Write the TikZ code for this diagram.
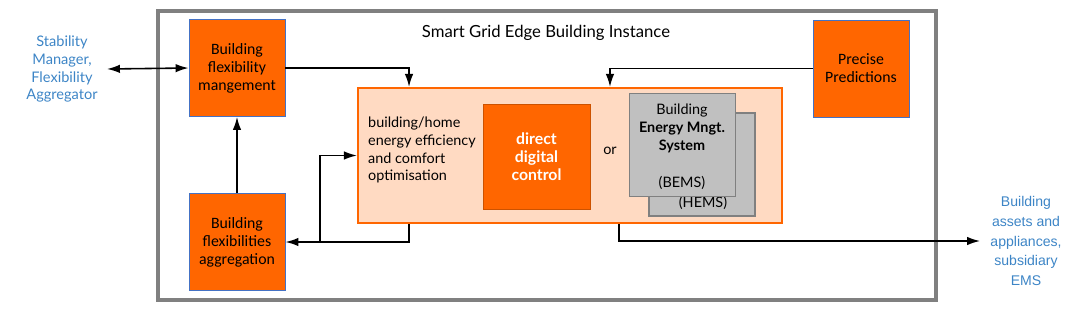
\documentclass[tikz,border=0pt]{standalone}
\usepackage{fontspec}
\setmainfont{Carlito}
\newfontfamily\latofont{Lato}
\newfontfamily\arialfont{Liberation Sans}
\usetikzlibrary{arrows.meta}
\definecolor{sgorange}{HTML}{FF6600}
\definecolor{sgpeach}{HTML}{FFDAC2}
\definecolor{sgborder}{HTML}{4472C4}
\definecolor{sggrey}{HTML}{C0C0C0}
\definecolor{sgframe}{HTML}{808080}
\definecolor{sgblue}{HTML}{3D85C6}
\tikzset{
  obox/.style={draw=sgborder,line width=0.5pt,fill=sgorange,minimum width=1.92cm,
    minimum height=1.94cm,align=center,font=\fontsize{9}{10.2}\selectfont},
  optbox/.style={draw=sgorange,line width=1.2pt,fill=sgpeach,minimum width=8.48cm,minimum height=2.7cm},
  ddcbox/.style={draw=sgorange!80!black,line width=0.5pt,fill=sgorange,minimum width=2.14cm,
    minimum height=2.1cm,align=center,text=white,font=\latofont\bfseries\fontsize{9}{10.2}\selectfont},
  gbox/.style={draw=sgframe,line width=0.6pt,fill=sggrey,minimum width=2.12cm,minimum height=2.06cm},
  smalltext/.style={font=\latofont\fontsize{8.2}{10.2}\selectfont},
  bluetext/.style={text=sgblue,align=center},
  tip/.tip={Latex[length=0.26cm,width=0.17cm]},
  arr/.style={-tip,line width=0.9pt}
}
\begin{document}
\begin{tikzpicture}[x=0.02cm,y=-0.02cm]
\useasboundingbox (0,0) rectangle (1080,312);
\draw[sgframe,line width=2pt] (158,11) rectangle (936,300);
\node[font=\latofont\fontsize{9.5}{12}\selectfont] (title) at (546,33) {Smart Grid Edge Building Instance};

\node[obox] (mgmt) at (237,68) {Building\\flexibility\\mangement};
\node[obox] (aggr) at (237,242) {Building\\flexibilities\\aggregation};
\node[obox] (pred) at (861,68.5) {Precise\\Predictions};

\node[optbox] (opt) at (570,155.5) {};
\node[smalltext,align=left,anchor=west] (goal) at (362,150)
  {building/home\\energy efficiency\\and comfort\\optimisation};
\node[ddcbox] (ddc) at (536.5,156.5) {direct\\digital\\control};
\node[smalltext] (or) at (610,151) {or};
\node[gbox] (hems) at (702,164.5) {};
\node[smalltext] (hemslbl) at (703,203) {(HEMS)};
\node[gbox] (bems) at (682.5,145) {};
\node[smalltext,align=center] (bemslbl) at (682,128)
  {Building\\\textbf{Energy Mngt.}\\\textbf{System}};
\node[smalltext] (bemsabbr) at (682,183) {(BEMS)};

\node[bluetext,inner sep=0.18cm,font=\latofont\fontsize{8.3}{10.2}\selectfont] (stab) at (62,69)
  {Stability\\Manager,\\Flexibility\\Aggregator};
\node[bluetext,inner sep=0.2cm,font=\arialfont\fontsize{8}{11.3}\selectfont] (assets) at (1026,241)
  {Building\\assets and\\appliances,\\subsidiary\\EMS};

\draw[arr,tip-tip] (stab.east) -- (mgmt.west);
\draw[arr] (mgmt.east) -| ([xshift=-3.22cm]opt.north);
\draw[arr] (pred.west) -| ([xshift=0.8cm]opt.north);
\draw[arr] (aggr.north) -- (mgmt.south);
\draw[arr] ([xshift=-3.22cm]opt.south) |- (aggr.east);
\coordinate (split) at (320,242);
\draw[arr] (split) |- (opt.west);
\draw[arr] ([xshift=0.98cm]opt.south) |- (assets.west);
\end{tikzpicture}
\end{document}
